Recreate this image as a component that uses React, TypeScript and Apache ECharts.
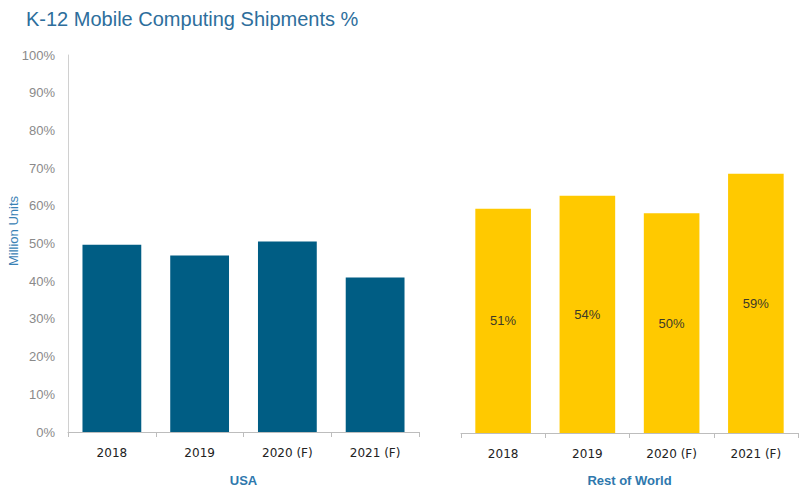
import React, { useEffect, useRef } from "react";
import * as echarts from "echarts";

const categories = ["2018", "2019", "2020 (F)", "2021 (F)"];
const usaValues = [49.7, 46.8, 50.5, 41.0];
const rowValues = [51, 54, 50, 59];
const yTicks = [0, 10, 20, 30, 40, 50, 60, 70, 80, 90, 100];

export default function App() {
  const ref = useRef<HTMLDivElement>(null);
  useEffect(() => {
    if (!ref.current) return;
    const chart = echarts.init(ref.current, null, { renderer: "svg" });
    const axisLabelX = { color: "#222", fontSize: 12, fontFamily: "DejaVu Sans", margin: 15 };
    chart.setOption({
      animation: false,
      backgroundColor: "#fff",
      title: {
        text: "K-12 Mobile Computing Shipments %",
        left: 26,
        top: 9,
        padding: 0,
        textStyle: { color: "#2d6e9c", fontSize: 20, fontWeight: "normal", fontFamily: "Liberation Sans" },
      },
      graphic: [
        {
          type: "text",
          x: 13,
          y: 231,
          rotation: Math.PI / 2,
          style: {
            text: "Million Units",
            fill: "#3a82b5",
            fontSize: 13,
            fontFamily: "Liberation Sans",
            align: "center",
            verticalAlign: "middle",
          },
        },
      ],
      grid: [
        { left: 68, top: 55, width: 351, height: 379 },
        { left: 461, top: 55, width: 337, height: 382 },
      ],
      xAxis: [
        {
          gridIndex: 0,
          type: "category",
          data: categories,
          axisLine: { lineStyle: { color: "#bdbdbd", width: 1 } },
          axisTick: { show: true, length: 5, lineStyle: { color: "#bdbdbd" } },
          axisLabel: axisLabelX,
          name: "USA",
          nameLocation: "middle",
          nameGap: 42,
          nameTextStyle: { color: "#2e78ad", fontSize: 13, fontWeight: "bold", fontFamily: "Liberation Sans" },
        },
        {
          gridIndex: 1,
          type: "category",
          data: categories,
          axisLine: { lineStyle: { color: "#bdbdbd", width: 1 } },
          axisTick: { show: true, length: 5, lineStyle: { color: "#bdbdbd" } },
          axisLabel: axisLabelX,
          name: "Rest of World",
          nameLocation: "middle",
          nameGap: 41,
          nameTextStyle: { color: "#2e78ad", fontSize: 13, fontWeight: "bold", fontFamily: "Liberation Sans" },
        },
      ],
      yAxis: [
        {
          gridIndex: 0,
          type: "value",
          min: yTicks[0],
          max: yTicks[yTicks.length - 1],
          interval: 10,
          axisLine: { show: true, lineStyle: { color: "#d0d0d0" } },
          axisTick: { show: false },
          splitLine: { show: false },
          axisLabel: { formatter: "{value}%", color: "#8a8a8a", fontSize: 13, fontFamily: "Liberation Sans", margin: 13 },
        },
        {
          gridIndex: 1,
          type: "value",
          min: 0,
          max: 86,
          show: false,
          splitLine: { show: false },
        },
      ],
      series: [
        {
          type: "bar",
          xAxisIndex: 0,
          yAxisIndex: 0,
          data: usaValues,
          barWidth: "67%",
          itemStyle: { color: "#005d84" },
        },
        {
          type: "bar",
          xAxisIndex: 1,
          yAxisIndex: 1,
          data: rowValues,
          barWidth: "66%",
          itemStyle: { color: "#ffc900" },
          label: {
            show: true,
            position: "inside",
            formatter: "{c}%",
            color: "#3d3a28",
            fontSize: 13,
            fontFamily: "Liberation Sans",
          },
        },
      ],
    });
    return () => chart.dispose();
  }, []);
  return (
    <div
      ref={ref}
      style={{ position: "fixed", left: 0, top: 0, width: 799, height: 492 }}
    />
  );
}
